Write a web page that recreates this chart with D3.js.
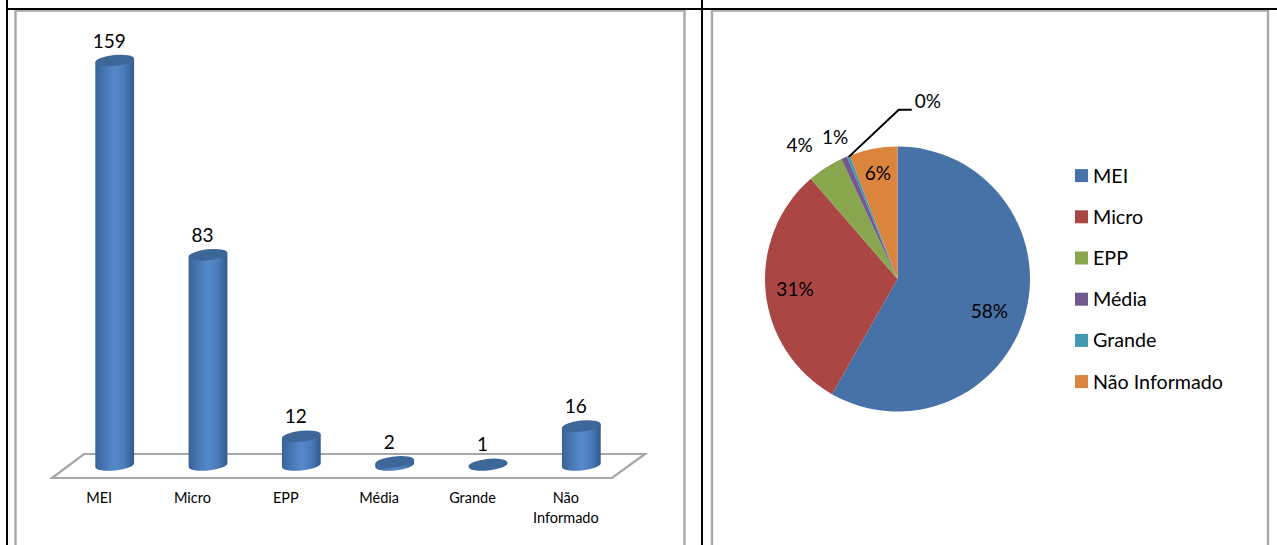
<!DOCTYPE html>
<html><head><meta charset="utf-8">
<script src="https://cdnjs.cloudflare.com/ajax/libs/d3/7.8.5/d3.min.js"></script>
<style>html,body{margin:0;padding:0;background:#fff;overflow:hidden}svg{display:block;font-family:Lato,"Open Sans",sans-serif}</style>
</head><body><svg id="c" width="1277" height="545"></svg>
<script>
const categories = ["MEI","Micro","EPP","Média","Grande","Não Informado"];
const values = [159,83,12,2,1,16];
const pieLabels = ["58%","31%","4%","1%","0%","6%"];
const pieColors = ["#4672a8","#aa4644","#89a54e","#71588f","#4198af","#db843d"];

const svg = d3.select("#c");
// page table rules and chart frames
const frames = [[15.5,684.5],[712,1268]];
frames.forEach(([a,b])=>{
  svg.append("path").attr("d",`M${a},546V10.5H${b}V546`).attr("fill","none").attr("stroke","#a8a8a8").attr("stroke-width",2.4);
});
svg.append("path").attr("d","M7,0V545M702,0V545M7,9H1277").attr("fill","none").attr("stroke","#000").attr("stroke-width",2);

// ---- cylinder chart
const x = d3.scaleBand().domain(categories).range([68,628]).padding(0);
const y = d3.scaleLinear().domain([0,159]).range([467,60.5]);
const rx = 19.5, ry = 5.5, tilt = -6, t = tilt*Math.PI/180;
const dx = rx*Math.cos(t), dy = rx*Math.sin(t);

const defs = svg.append("defs");
const g = defs.append("linearGradient").attr("id","cyl").attr("x1",0).attr("x2",1).attr("y1",0).attr("y2",0);
[[0,"#3a6296"],[.18,"#4372ad"],[.5,"#5689cb"],[.75,"#4a7cb9"],[1,"#335a8e"]].forEach(([o,c])=>g.append("stop").attr("offset",o).attr("stop-color",c));

svg.append("path").attr("d","M52,478H612L645,454H84Z").attr("fill","#fff").attr("stroke","#a6a6a6").attr("stroke-width",2.2);

const bars = svg.selectAll("g.bar").data(categories.map((c,i)=>({c,v:values[i]}))).join("g").attr("class","bar");
bars.each(function(d){
  const cx = x(d.c)+x.bandwidth()/2, top = y(d.v), base = y(0)-2, s = d3.select(this);
  const b = d3.path();
  b.moveTo(cx-dx,top-dy); b.lineTo(cx-dx,base-dy);
  s.append("path").attr("fill","url(#cyl)")
   .attr("d",`${b.toString()}A${rx},${ry} ${tilt} 0 0 ${cx+dx},${base+dy}L${cx+dx},${top+dy}Z`);
  s.append("ellipse").attr("rx",rx).attr("ry",ry).attr("fill","#3d6699")
   .attr("transform",`translate(${cx},${top}) rotate(${tilt})`);
  s.append("text").attr("x",cx-5.5).attr("y",top-13).attr("text-anchor","middle").attr("font-size",19).attr("fill","#000").text(d.v);
});

const axis = d3.axisBottom(x).tickSize(0).tickPadding(0);
const ax = svg.append("g").attr("transform","translate(-15.5,489)").call(axis);
ax.attr("font-family",'Lato,"Open Sans",sans-serif').attr("font-size",14.5);
ax.select(".domain").remove();
ax.selectAll("text").attr("fill","#000").each(function(d){
  const el = d3.select(this), w = d.split(" ");
  el.text(null);
  w.forEach((p,i)=>el.append("tspan").attr("x",0).attr("dy",i?"20":"0.95em").text(p));
});

// ---- pie chart
const pieG = svg.append("g").attr("transform","translate(897.5,279)");
const pie = d3.pie().sort(null).value(d=>d)(values);
const R = 132.5;
const arc = d3.arc().innerRadius(0).outerRadius(R);
pieG.selectAll("path.s").data(pie).join("path").attr("class","s").attr("d",arc).attr("fill",(d,i)=>pieColors[i]);

const polar = (a,r)=>[Math.sin(a)*r,-Math.cos(a)*r];
const mid = d=>(d.startAngle+d.endAngle)/2;
// label radius and nudge per slice
const lr = [96,103,165,155,0,107], nudge = [[-1,8],[0,0],[-8,5],[0,0],[0,0],[0,0]];
pie.forEach((d,i)=>{
  let p;
  if(i===4){
    const e = polar(mid(d),R-1);
    const knee = [e[0]+50,e[1]-47];
    pieG.append("path").attr("fill","none").attr("stroke","#000").attr("stroke-width",2)
      .attr("d",d3.line()([e,knee,[knee[0]+13,knee[1]]]));
    p = [knee[0]+29,knee[1]-9];
  } else {
    const q = polar(mid(d),lr[i]); p = [q[0]+nudge[i][0],q[1]+nudge[i][1]];
  }
  pieG.append("text").attr("x",p[0]).attr("y",p[1]).attr("dy","0.35em").attr("text-anchor","middle").attr("font-size",19).attr("fill","#000").text(pieLabels[i]);
});

// ---- legend
const ly = d3.scalePoint().domain(categories).range([175.6,381.6]);
const lg = svg.selectAll("g.lg").data(categories).join("g").attr("class","lg").attr("transform",d=>`translate(1075,${ly(d)})`);
lg.append("rect").attr("y",-6.5).attr("width",13).attr("height",13).attr("fill",(d,i)=>pieColors[i]);
lg.append("text").attr("x",18).attr("dy","0.35em").attr("font-size",19.7).attr("fill","#000").text(d=>d);
</script></body></html>
